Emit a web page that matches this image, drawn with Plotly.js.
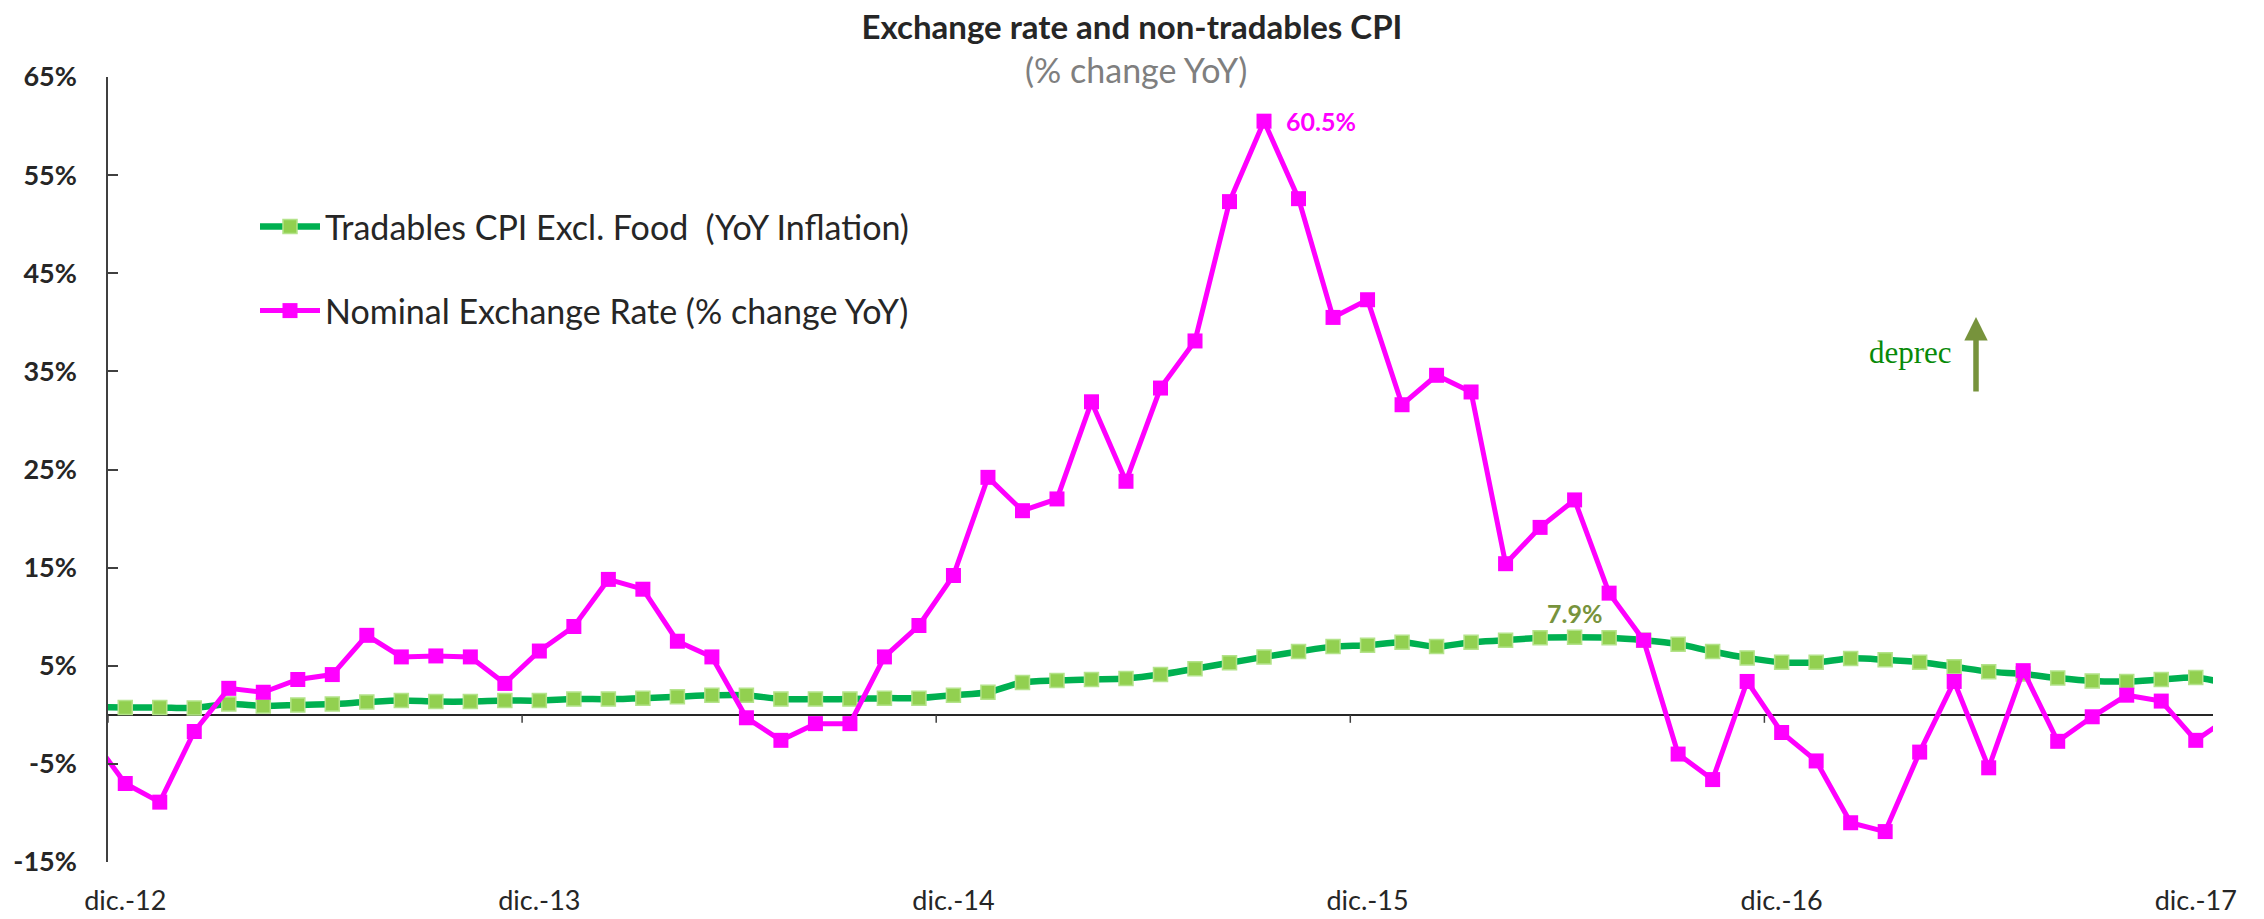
<!DOCTYPE html>
<html>
<head>
<meta charset="utf-8">
<script src="https://cdn.plot.ly/plotly-3.0.1.min.js"></script>
<style>
  html, body { margin: 0; padding: 0; background: #ffffff; }
  #chart { width: 2264px; height: 919px; }
</style>
</head>
<body>
<div id="chart"></div>
<script>
// Monthly categories (first and last are outside the visible window, as in the source)
const months = [
  'nov.-12','dic.-12',
  'ene.-13','feb.-13','mar.-13','abr.-13','may.-13','jun.-13','jul.-13','ago.-13','sep.-13','oct.-13','nov.-13','dic.-13',
  'ene.-14','feb.-14','mar.-14','abr.-14','may.-14','jun.-14','jul.-14','ago.-14','sep.-14','oct.-14','nov.-14','dic.-14',
  'ene.-15','feb.-15','mar.-15','abr.-15','may.-15','jun.-15','jul.-15','ago.-15','sep.-15','oct.-15','nov.-15','dic.-15',
  'ene.-16','feb.-16','mar.-16','abr.-16','may.-16','jun.-16','jul.-16','ago.-16','sep.-16','oct.-16','nov.-16','dic.-16',
  'ene.-17','feb.-17','mar.-17','abr.-17','may.-17','jun.-17','jul.-17','ago.-17','sep.-17','oct.-17','nov.-17','dic.-17',
  'ene.-18'
];

// Tradables CPI excl. food, YoY inflation (%)
const tradables = [
  0.8, 0.75,
  0.75, 0.7, 1.1, 0.9, 1.0, 1.1, 1.3, 1.45, 1.35, 1.35, 1.45, 1.45,
  1.6, 1.6, 1.7, 1.85, 2.0, 2.0, 1.6, 1.6, 1.6, 1.7, 1.7, 2.0,
  2.3, 3.3, 3.5, 3.6, 3.7, 4.1, 4.7, 5.3, 5.9, 6.45, 6.95, 7.1,
  7.4, 6.95, 7.4, 7.6, 7.85, 7.9, 7.85, 7.6, 7.2, 6.45, 5.8, 5.35,
  5.35, 5.75, 5.6, 5.35, 4.9, 4.4, 4.15, 3.75, 3.45, 3.4, 3.6, 3.8,
  3.1
];

// Nominal exchange rate, % change YoY
const exchangeRate = [
  -2.2, -7.0,
  -8.9, -1.7, 2.7, 2.3, 3.6, 4.1, 8.1, 5.9, 6.0, 5.9, 3.2, 6.5,
  9.0, 13.8, 12.8, 7.5, 5.9, -0.3, -2.6, -0.9, -0.9, 5.9, 9.1, 14.2,
  24.2, 20.8, 22.0, 31.9, 23.8, 33.3, 38.1, 52.3, 60.5, 52.6, 40.5, 42.3,
  31.6, 34.6, 32.9, 15.4, 19.1, 21.9, 12.4, 7.6, -4.0, -6.6, 3.4, -1.8,
  -4.7, -11.0, -11.9, -3.8, 3.4, -5.4, 4.5, -2.7, -0.2, 2.0, 1.4, -2.6,
  -0.2
];

const seriesNames = ['Tradables CPI Excl. Food  (YoY Inflation)', 'Nominal Exchange Rate (% change YoY)'];
const yTicks = [-15, -5, 5, 15, 25, 35, 45, 55, 65];

// x positions: month index, with 'dic.-12' at 0
const xPos = months.map((m, k) => k - 1);
const xStart = xPos[months.indexOf('dic.-12')];
const xEnd = xPos[months.indexOf('dic.-17')];
const labelIdx = months.map((m, k) => m.startsWith('dic.') ? k : -1).filter(k => k >= 0);
const tickVals = labelIdx.map(k => xPos[k]);
const tickText = labelIdx.map(k => months[k]);
const boundaryTicks = [xStart - 0.5].concat(tickVals.slice(1, -1).map(v => v - 0.5));

const FONT = 'Lato, "Open Sans", sans-serif';
const DARK = '#262626';

// plot box in pixels
const W = 2264, H = 919, ML = 108, MR = 51, MT = 77, MB = 57;
const PW = W - ML - MR, PH = H - MT - MB;
const px = x => (x - ML) / PW;
const py = y => (H - MB - y) / PH;

const traceTrad = {
  x: xPos, y: tradables, text: months,
  type: 'scatter', mode: 'lines+markers',
  name: seriesNames[0],
  line: { color: '#00B050', width: 6.5, shape: 'spline', smoothing: 0.8 },
  marker: { symbol: 'square', size: 14, color: '#92D050', line: { color: '#B4E38A', width: 1.5 } },
  hovertemplate: '%{text}: %{y:.1f}%<extra></extra>',
  legend: 'legend'
};
const traceFx = {
  x: xPos, y: exchangeRate, text: months,
  type: 'scatter', mode: 'lines+markers',
  name: seriesNames[1],
  line: { color: '#FF00FF', width: 5 },
  marker: { symbol: 'square', size: 15, color: '#FF00FF' },
  hovertemplate: '%{text}: %{y:.1f}%<extra></extra>',
  legend: 'legend2'
};

// peak labels
const fxMax = Math.max(...exchangeRate);
const fxMaxK = exchangeRate.indexOf(fxMax);
const trMax = Math.max(...tradables);
const trMaxK = tradables.indexOf(trMax);

const legendCommon = {
  xref: 'paper', yref: 'paper', xanchor: 'left', yanchor: 'middle',
  bgcolor: 'rgba(0,0,0,0)', borderwidth: 0, itemwidth: 60,
  font: { family: FONT, size: 34, color: DARK }
};

// small tick marks hanging from the zero line at the year boundaries
const tickShapes = boundaryTicks.map(v => ({
  type: 'line', xref: 'x', yref: 'y', ysizemode: 'pixel', yanchor: 0,
  x0: v, x1: v, y0: 0, y1: -8,
  line: { color: '#404040', width: 1.5 }
}));

const layout = {
  width: W, height: H,
  paper_bgcolor: '#ffffff', plot_bgcolor: '#ffffff',
  margin: { l: ML, r: MR, t: MT, b: MB, autoexpand: false },
  showlegend: true,
  title: {
    text: '<b>Exchange rate and non-tradables CPI</b>',
    x: 0.5, xref: 'container', xanchor: 'center',
    y: 1 - 27 / H, yref: 'container', yanchor: 'middle',
    font: { family: FONT, size: 33, color: DARK }
  },
  xaxis: {
    type: 'linear',
    range: [xStart - 0.5, xEnd + 0.5],
    showgrid: false, zeroline: false, showline: false,
    tickmode: 'array', tickvals: tickVals, ticktext: tickText,
    ticks: '', ticklabelstandoff: 20,
    tickfont: { family: FONT, size: 27, color: DARK },
    fixedrange: true
  },
  yaxis: {
    range: [-15, 65],
    tickmode: 'array', tickvals: yTicks, ticktext: yTicks.map(v => v + '%'),
    showgrid: false,
    zeroline: true, zerolinecolor: DARK, zerolinewidth: 2,
    showline: true, linecolor: '#404040', linewidth: 1.5,
    ticks: 'inside', ticklen: 10, tickwidth: 1.5, tickcolor: '#404040',
    ticklabelstandoff: 24,
    tickfont: { family: FONT, size: 27, color: DARK, weight: 'bold' },
    fixedrange: true
  },
  legend: Object.assign({}, legendCommon, { x: px(255), y: py(227) }),
  legend2: Object.assign({}, legendCommon, { x: px(255), y: py(311) }),
  shapes: tickShapes,
  annotations: [
    {
      text: '(% change YoY)', xref: 'paper', yref: 'paper',
      x: px(1136), y: py(69), xanchor: 'center', yanchor: 'middle',
      showarrow: false, font: { family: FONT, size: 34, color: '#7F7F7F' }
    },
    {
      text: '<b>' + fxMax.toFixed(1) + '%</b>', x: xPos[fxMaxK], y: fxMax,
      xref: 'x', yref: 'y', xanchor: 'left', yanchor: 'middle', xshift: 20,
      showarrow: false, font: { family: FONT, size: 25, color: '#FF00FF' }
    },
    {
      text: '<b>' + trMax.toFixed(1) + '%</b>', x: xPos[trMaxK], y: trMax,
      xref: 'x', yref: 'y', xanchor: 'center', yanchor: 'bottom', yshift: 7,
      showarrow: false, font: { family: FONT, size: 25, color: '#77933C' }
    },
    {
      text: 'deprec', xref: 'paper', yref: 'paper',
      x: px(1910), y: py(352), xanchor: 'center', yanchor: 'middle',
      showarrow: false, font: { family: '"Liberation Serif", "DejaVu Serif", serif', size: 31, color: '#088A08' }
    },
    {
      text: '', xref: 'paper', yref: 'paper',
      x: px(1976), y: py(317),
      showarrow: true, arrowhead: 2, arrowsize: 0.85, arrowwidth: 5.5, arrowcolor: '#77933C',
      ax: 0, ay: 76, standoff: 0, startstandoff: 0
    }
  ]
};

Plotly.newPlot('chart', [traceTrad, traceFx], layout, { displayModeBar: false, responsive: false });
</script>
</body>
</html>
